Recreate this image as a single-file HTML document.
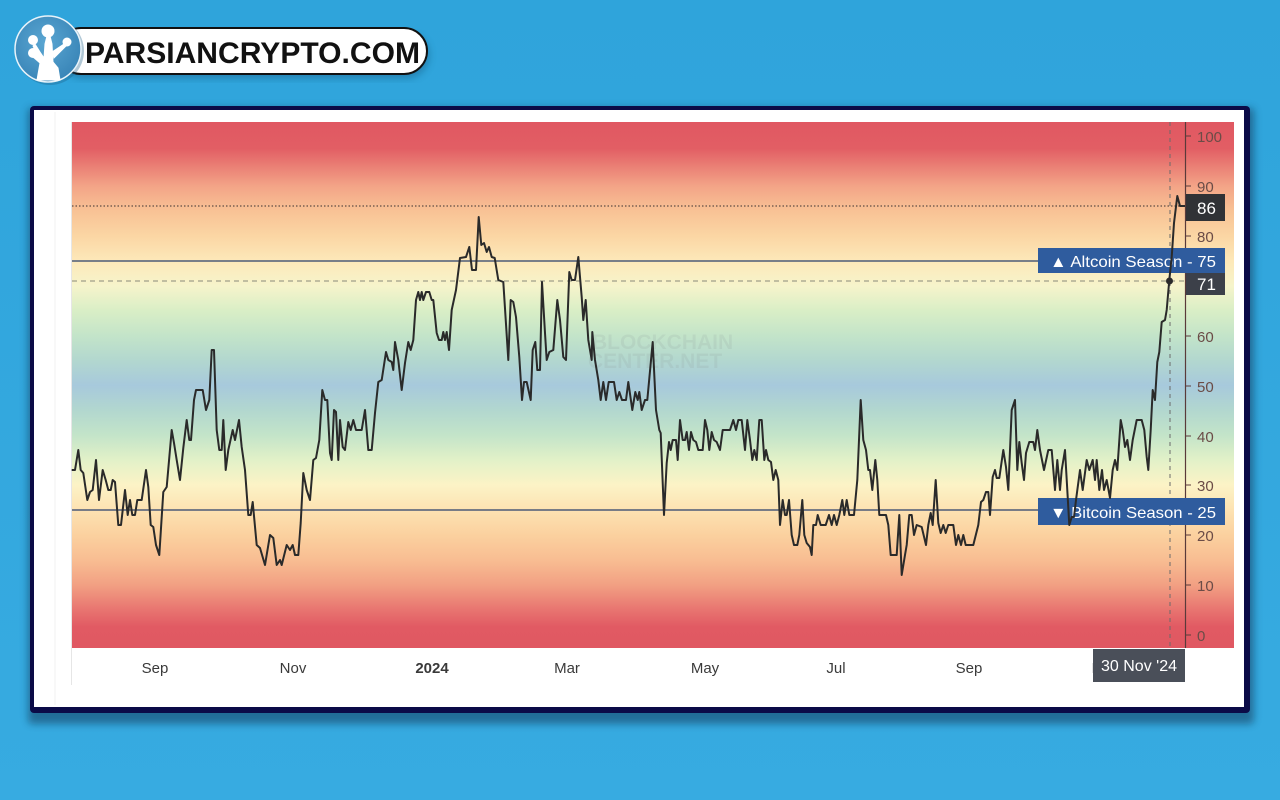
<!DOCTYPE html>
<html><head><meta charset="utf-8"><style>
html,body{margin:0;padding:0;width:1280px;height:800px;overflow:hidden;background:#33a8de;}
svg{display:block}
</style></head><body>
<svg width="1280" height="800" viewBox="0 0 1280 800" xmlns="http://www.w3.org/2000/svg">
<defs>
<linearGradient id="bg" x1="0" y1="0" x2="0" y2="1">
<stop offset="0" stop-color="#2fa4db"/><stop offset="1" stop-color="#37abe1"/>
</linearGradient>
<linearGradient id="heat" gradientUnits="userSpaceOnUse" x1="0" y1="122" x2="0" y2="648">
<stop offset="0" stop-color="#e05862"/>
<stop offset="0.05" stop-color="#e25e64"/>
<stop offset="0.122" stop-color="#f3a487"/>
<stop offset="0.169" stop-color="#f8c295"/>
<stop offset="0.217" stop-color="#fbd6a4"/>
<stop offset="0.264" stop-color="#fde8b9"/>
<stop offset="0.312" stop-color="#f6f4cb"/>
<stop offset="0.359" stop-color="#d9eec6"/>
<stop offset="0.407" stop-color="#c3e4c9"/>
<stop offset="0.454" stop-color="#b2d7cf"/>
<stop offset="0.501" stop-color="#a7c9dc"/>
<stop offset="0.548" stop-color="#b2d7cf"/>
<stop offset="0.595" stop-color="#c3e4c9"/>
<stop offset="0.643" stop-color="#e2f1c8"/>
<stop offset="0.69" stop-color="#fcf3c6"/>
<stop offset="0.738" stop-color="#fde2b2"/>
<stop offset="0.785" stop-color="#fbd19f"/>
<stop offset="0.833" stop-color="#f8bd92"/>
<stop offset="0.88" stop-color="#f2a083"/>
<stop offset="0.928" stop-color="#e87470"/>
<stop offset="0.96" stop-color="#e15a63"/>
<stop offset="1" stop-color="#e05862"/>
</linearGradient>
<radialGradient id="lg" cx="0.45" cy="0.4" r="0.6">
<stop offset="0" stop-color="#5aa6d2"/><stop offset="1" stop-color="#3a86b8"/>
</radialGradient>
<filter id="sh" x="-5%" y="-5%" width="110%" height="115%"><feGaussianBlur stdDeviation="4"/></filter>
</defs>

<rect x="0" y="0" width="1280" height="800" fill="url(#bg)"/>

<!-- logo -->
<rect x="58" y="28" width="369" height="46" rx="23" fill="#0d3a5a" opacity="0.35" transform="translate(2,4)" filter="url(#sh)"/>
<rect x="58" y="28" width="369" height="46" rx="23" fill="#ffffff" stroke="#111" stroke-width="2"/>
<text x="85" y="63" font-family="Liberation Sans, Arial, sans-serif" font-weight="bold" font-size="30" fill="#111" textLength="335" lengthAdjust="spacingAndGlyphs">PARSIANCRYPTO.COM</text>
<circle cx="48" cy="49" r="34" fill="#1d5f86" opacity="0.35" transform="translate(2,2)"/>
<circle cx="48" cy="49" r="33" fill="url(#lg)" stroke="#e8f3fa" stroke-width="1.5"/>
<g fill="#ffffff" stroke="#ffffff">
<path d="M37 80 L60 80 L58 68 L53 62 L52 44 L50 36 L47 36 L45 44 L44 58 L40 52 L35 44 L33 46 L38 56 L34 54 L33 57 L40 63 Z" stroke-width="1"/>
<path d="M52 52 L64 44 L66 46 L54 58 Z" stroke-width="1"/>
<circle cx="48" cy="31" r="6.5" stroke="none"/>
<circle cx="33" cy="40" r="5" stroke="none"/>
<circle cx="67" cy="42" r="4.5" stroke="none"/>
<circle cx="33" cy="53" r="5" stroke="none"/>
</g>

<!-- frame -->
<rect x="28" y="108" width="1226" height="616" rx="4" fill="#0a3050" opacity="0.5" filter="url(#sh)"/>
<rect x="30" y="106" width="1220" height="607" rx="4" fill="#0b0b47"/>
<rect x="34" y="110" width="1210" height="597" fill="#ffffff"/>
<line x1="55" y1="112" x2="55" y2="705" stroke="#f0f0f0" stroke-width="1"/>
<line x1="71.5" y1="122" x2="71.5" y2="685" stroke="#e6e6e6" stroke-width="1"/>

<!-- heat area -->
<rect x="72" y="122" width="1162" height="526" fill="url(#heat)"/>

<!-- watermark -->
<text x="592" y="349" font-family="Liberation Sans, Arial, sans-serif" font-weight="bold" font-size="21" fill="#8a9696" opacity="0.15">BLOCKCHAIN</text>
<text x="588" y="368" font-family="Liberation Sans, Arial, sans-serif" font-weight="bold" font-size="21" fill="#8a9696" opacity="0.15">CENTER.NET</text>

<!-- reference lines -->
<line x1="72" y1="206" x2="1185" y2="206" stroke="#3a3030" stroke-width="1" stroke-dasharray="1.5,2"/>
<line x1="72" y1="281" x2="1185" y2="281" stroke="#8a8a7a" stroke-width="1" stroke-dasharray="5,4"/>
<line x1="72" y1="261" x2="1185" y2="261" stroke="#4d5b78" stroke-width="1.6"/>
<line x1="72" y1="510" x2="1185" y2="510" stroke="#4d5b78" stroke-width="1.6"/>
<line x1="1170" y1="122" x2="1170" y2="650" stroke="#6a6a6a" stroke-width="1" stroke-dasharray="4,4"/>

<!-- right axis -->
<line x1="1185.5" y1="122" x2="1185.5" y2="648" stroke="#5a3a3a" stroke-width="1.2"/>
<g stroke="#5a3a3a" stroke-width="1">
<line x1="1185" y1="136" x2="1191" y2="136"/><line x1="1185" y1="186" x2="1191" y2="186"/>
<line x1="1185" y1="236" x2="1191" y2="236"/><line x1="1185" y1="336" x2="1191" y2="336"/>
<line x1="1185" y1="386" x2="1191" y2="386"/><line x1="1185" y1="436" x2="1191" y2="436"/>
<line x1="1185" y1="485" x2="1191" y2="485"/><line x1="1185" y1="535" x2="1191" y2="535"/>
<line x1="1185" y1="585" x2="1191" y2="585"/><line x1="1185" y1="635" x2="1191" y2="635"/>
</g>
<g font-family="Liberation Sans, Arial, sans-serif" font-size="15" fill="#6b4c47">
<text x="1197" y="142">100</text><text x="1197" y="192">90</text><text x="1197" y="242">80</text>
<text x="1197" y="342">60</text><text x="1197" y="392">50</text><text x="1197" y="442">40</text>
<text x="1197" y="491">30</text><text x="1197" y="541">20</text><text x="1197" y="591">10</text>
<text x="1197" y="641">0</text>
</g>

<!-- label boxes -->
<rect x="1038" y="248" width="187" height="25" fill="#2f5c9e"/>
<text x="1050" y="267" font-family="Liberation Sans, Arial, sans-serif" font-size="16" fill="#ffffff" textLength="166" lengthAdjust="spacingAndGlyphs">▲ Altcoin Season - 75</text>
<rect x="1038" y="498" width="187" height="27" fill="#2f5c9e"/>
<text x="1050" y="518" font-family="Liberation Sans, Arial, sans-serif" font-size="16" fill="#ffffff" textLength="166" lengthAdjust="spacingAndGlyphs">▼ Bitcoin Season - 25</text>

<!-- series -->
<polyline fill="none" stroke="#2a2a2a" stroke-width="2" stroke-linejoin="round" points="71.7,470 75,470 78.3,450 80.7,470 83.3,473 87.3,500 90,492 92.7,490 96,460 99,500 102.7,470 105.7,480 108.3,490 110.7,490 112.7,480 115,482 118.3,525 121,525 125,490 127.7,515 130,500 132.3,515 135,515 137.3,500 141.7,500 146,470 148.3,487 150.7,525 153.3,527 156,545 159.3,555 163.3,492 166.7,487 171.7,430 174,443 176.7,460 180,480 183.3,448 186.7,420 189.3,440 191,440 194,400 196,390 202.7,390 206,410 209.3,400 211.7,350 214,350 216.7,430 219.3,450 221.7,450 223.3,420 225.7,470 228.3,450 232.7,430 235,440 239,420 241.7,447 245,470 248.3,515 250.7,515 252.7,502 256.7,545 260,548 265,565 270,535 273.3,538 276.7,565 280,560 281.7,565 286.7,545 290,550 292.7,545 295,555 298.3,555 300.7,523 303.3,473 306.7,490 310,500 313.3,460 316,458 319.3,440 322.3,390 325,400 327.3,400 330,453 331.7,460 334,410 336,412 338.3,460 340,420 342.7,447 345,450 348.3,422 350.7,430 353.3,420 356,430 361.7,430 365,410 368.3,450 371.7,450 375,413 378.3,382 381.7,380 386,352 388.3,360 391.7,362 393.3,370 395,342 398.3,360 401.7,390 405,363 408.3,342 410.7,350 413.3,340 416,300 418.3,292 420,300 421.7,292 423.3,300 426,292 429.3,292 431.7,300 433.3,300 436.7,333 439,340 441.7,340 443.3,332 445,340 446.7,332 449,350 451.7,310 456,290 460,258 466,257 469.3,247 472,270 476,270 478.7,217 481.3,245 484,243 486.7,252 489,247 491.7,257 494.7,258 498.3,280 503.3,282 508.3,360 510.7,300 513.3,302 516,317 519.3,357 522,400 524,382 526.7,382 530.7,400 532.7,350 535.3,342 537.3,370 540,370 542,282 545,333 546.7,360 549.3,352 553.3,350 557.3,300 560,320 563.3,357 566,360 569.3,272 571.7,280 575,280 578.3,257 581.7,297 583.3,320 585.7,300 588.3,340 591.7,360 592.3,332 595,360 598.3,380 600.7,400 603.3,382 606,400 608.7,382 614,382 616.7,400 619.3,392 622,400 626,400 628.3,382 632.3,410 635.3,392 637.7,400 639.3,392 641.7,410 645,400 647.3,400 652.7,342 656,410 659.3,430 660.7,433 664,515 666.7,463 669,442 670.7,450 672.7,440 676,440 677.7,460 680,420 682.7,440 685,440 686.7,432 689,450 691,432 693.3,440 696,442 698.3,450 702.7,450 705,420 707.3,430 709.3,450 711.7,432 714,440 716.7,442 720,450 722.7,430 730,430 733.3,420 736,430 738.3,420 741.7,420 745,450 747.3,420 750,440 752.3,460 754.3,450 756.7,460 759.3,420 761.7,420 764.3,460 766,450 768.3,460 771,462 773.3,480 775.7,470 778.3,480 780,525 782.7,500 785,515 786.7,515 789,500 791.7,535 794,545 797.3,545 799.3,535 802.3,500 804.3,535 806.7,543 810,547 811.7,555 813.3,525 816,525 817.7,515 820.7,525 825.7,525 829,515 831.7,525 834,515 836.7,525 839.3,515 842.3,500 844.3,515 846.7,500 849.3,515 854,515 857.3,480 860.7,400 863.3,440 866,450 868.3,470 870,470 872.3,490 875.3,460 877.3,480 879.3,515 886,515 888.3,525 890.7,555 896.7,555 899.3,515 901.7,575 905,555 906.7,545 909.3,515 911.7,515 914,535 916.7,525 921.7,527 926,545 928.3,525 930.7,513 932.7,525 935.7,480 938.3,523 940.7,533 943.3,525 945.7,533 948.3,525 953.3,525 956,545 958.3,535 961,545 963.3,535 965.7,545 973.3,545 978.3,525 981,502 983.3,500 986,492 988.3,492 990,515 992.7,477 995,470 996.7,478 999.3,478 1003.3,450 1006,467 1008.3,490 1011.7,410 1015,400 1017.3,470 1019.3,442 1021.7,463 1024,480 1026,453 1029.3,442 1033.3,442 1035,450 1037.3,430 1040,450 1044,470 1048.3,450 1051.7,450 1055,490 1057.3,460 1060,490 1061.7,470 1065,450 1069.3,525 1071.7,517 1074,517 1076,500 1080,470 1082.7,490 1086.7,460 1089.3,470 1092.7,460 1095,480 1096.7,460 1099.3,490 1102,470 1104,490 1106.7,480 1110,498 1112.7,470 1115,460 1117.3,470 1120.7,420 1122.7,430 1125,447 1127.3,440 1130,460 1132.7,440 1136.7,420 1141.7,420 1144.3,430 1146.7,457 1148.3,470 1150.7,430 1152.7,390 1155,400 1157.3,362 1159.3,352 1161.7,322 1165,320 1166.7,310 1169.3,280 1171.7,257 1174,223 1177.3,196 1180,206 1185,206"/>
<circle cx="1169.5" cy="281" r="3.5" fill="#2a2a2a"/>

<!-- value boxes -->
<rect x="1186" y="194" width="39" height="27" fill="#303236"/>
<text x="1197" y="214" font-family="Liberation Sans, Arial, sans-serif" font-size="17" fill="#ffffff">86</text>
<rect x="1186" y="273" width="39" height="22" fill="#3c4049"/>
<text x="1197" y="290" font-family="Liberation Sans, Arial, sans-serif" font-size="17" fill="#ffffff">71</text>

<!-- x axis labels -->
<g font-family="Liberation Sans, Arial, sans-serif" font-size="15" fill="#3a3a3a" text-anchor="middle">
<text x="155" y="673">Sep</text>
<text x="293" y="673">Nov</text>
<text x="432" y="673" font-weight="bold">2024</text>
<text x="567" y="673">Mar</text>
<text x="705" y="673">May</text>
<text x="836" y="673">Jul</text>
<text x="969" y="673">Sep</text>
<text x="1105" y="673">Nov</text>
</g>
<rect x="1093" y="649" width="92" height="33" fill="#4a4f59"/>
<text x="1139" y="671" text-anchor="middle" font-family="Liberation Sans, Arial, sans-serif" font-size="16" fill="#ffffff">30 Nov '24</text>
</svg>
</body></html>
